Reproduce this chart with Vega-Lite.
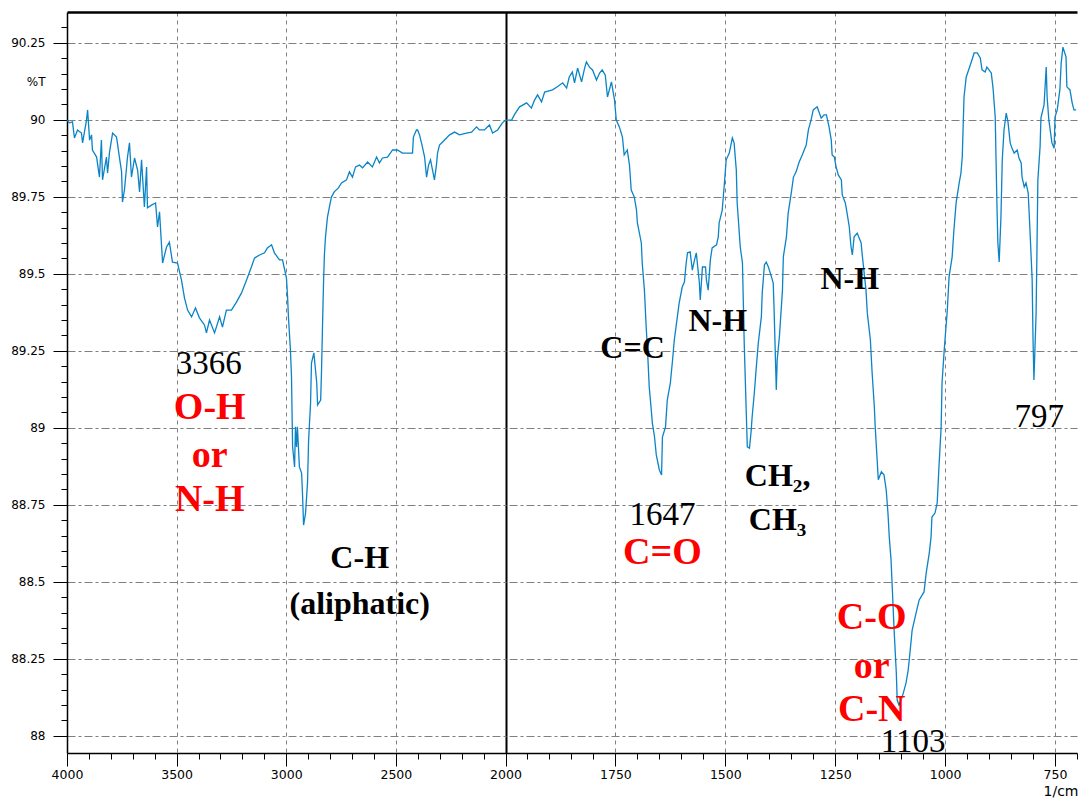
{
  "$schema": "https://vega.github.io/schema/vega-lite/v6.json",
  "autosize": {"type": "none"},
  "padding": {"left": 67, "top": 12, "right": 2, "bottom": 47},
  "width": 1010,
  "height": 741,
  "background": "white",
  "config": {"view": {"stroke": null}},
  "resolve": {"axis": {"x": "independent", "y": "independent"}},
  "layer": [
    {
      "data": {"values": [
        {"wn":4000,"T":89.999},{"wn":3989,"T":89.990},{"wn":3975,"T":89.993},{"wn":3966,"T":89.941},{"wn":3952,"T":89.967},{"wn":3934,"T":89.957},{"wn":3929,"T":89.925},{"wn":3911,"T":89.999},{"wn":3906,"T":90.032},{"wn":3897,"T":89.934},{"wn":3888,"T":89.951},{"wn":3884,"T":89.902},{"wn":3865,"T":89.879},{"wn":3852,"T":89.814},{"wn":3843,"T":89.934},{"wn":3838,"T":89.805},{"wn":3820,"T":89.879},{"wn":3815,"T":89.827},{"wn":3806,"T":89.895},{"wn":3792,"T":89.957},{"wn":3774,"T":89.944},{"wn":3761,"T":89.879},{"wn":3751,"T":89.831},{"wn":3747,"T":89.733},{"wn":3738,"T":89.772},{"wn":3724,"T":89.879},{"wn":3715,"T":89.925},{"wn":3706,"T":89.814},{"wn":3692,"T":89.876},{"wn":3678,"T":89.837},{"wn":3669,"T":89.766},{"wn":3660,"T":89.870},{"wn":3647,"T":89.717},{"wn":3637,"T":89.847},{"wn":3633,"T":89.714},{"wn":3615,"T":89.723},{"wn":3596,"T":89.730},{"wn":3587,"T":89.652},{"wn":3578,"T":89.701},{"wn":3564,"T":89.535},{"wn":3546,"T":89.587},{"wn":3533,"T":89.603},{"wn":3519,"T":89.538},{"wn":3496,"T":89.535},{"wn":3478,"T":89.480},{"wn":3464,"T":89.421},{"wn":3450,"T":89.382},{"wn":3432,"T":89.360},{"wn":3414,"T":89.389},{"wn":3396,"T":89.357},{"wn":3373,"T":89.334},{"wn":3364,"T":89.308},{"wn":3350,"T":89.350},{"wn":3327,"T":89.308},{"wn":3304,"T":89.360},{"wn":3291,"T":89.327},{"wn":3273,"T":89.382},{"wn":3250,"T":89.382},{"wn":3227,"T":89.408},{"wn":3204,"T":89.438},{"wn":3181,"T":89.480},{"wn":3159,"T":89.522},{"wn":3145,"T":89.551},{"wn":3122,"T":89.561},{"wn":3099,"T":89.568},{"wn":3086,"T":89.584},{"wn":3067,"T":89.594},{"wn":3054,"T":89.568},{"wn":3031,"T":89.545},{"wn":3017,"T":89.545},{"wn":2999,"T":89.486},{"wn":2994,"T":89.425},{"wn":2990,"T":89.360},{"wn":2981,"T":89.253},{"wn":2976,"T":89.165},{"wn":2974,"T":89.068},{"wn":2971,"T":88.938},{"wn":2962,"T":88.873},{"wn":2958,"T":89.003},{"wn":2953,"T":88.938},{"wn":2949,"T":89.003},{"wn":2940,"T":88.873},{"wn":2930,"T":88.853},{"wn":2926,"T":88.788},{"wn":2921,"T":88.684},{"wn":2912,"T":88.723},{"wn":2903,"T":88.821},{"wn":2898,"T":88.960},{"wn":2889,"T":89.081},{"wn":2885,"T":89.210},{"wn":2874,"T":89.243},{"wn":2861,"T":89.146},{"wn":2857,"T":89.074},{"wn":2843,"T":89.090},{"wn":2839,"T":89.188},{"wn":2834,"T":89.350},{"wn":2830,"T":89.470},{"wn":2826,"T":89.561},{"wn":2821,"T":89.620},{"wn":2812,"T":89.684},{"wn":2803,"T":89.717},{"wn":2794,"T":89.749},{"wn":2781,"T":89.766},{"wn":2762,"T":89.779},{"wn":2748,"T":89.795},{"wn":2725,"T":89.805},{"wn":2712,"T":89.831},{"wn":2698,"T":89.814},{"wn":2684,"T":89.847},{"wn":2666,"T":89.853},{"wn":2652,"T":89.844},{"wn":2629,"T":89.863},{"wn":2607,"T":89.847},{"wn":2588,"T":89.879},{"wn":2575,"T":89.860},{"wn":2561,"T":89.876},{"wn":2538,"T":89.879},{"wn":2515,"T":89.902},{"wn":2493,"T":89.902},{"wn":2470,"T":89.892},{"wn":2447,"T":89.892},{"wn":2424,"T":89.892},{"wn":2420,"T":89.944},{"wn":2406,"T":89.967},{"wn":2401,"T":89.967},{"wn":2392,"T":89.951},{"wn":2379,"T":89.912},{"wn":2369,"T":89.879},{"wn":2360,"T":89.814},{"wn":2351,"T":89.853},{"wn":2342,"T":89.870},{"wn":2333,"T":89.837},{"wn":2324,"T":89.805},{"wn":2315,"T":89.853},{"wn":2310,"T":89.892},{"wn":2301,"T":89.918},{"wn":2287,"T":89.928},{"wn":2269,"T":89.941},{"wn":2255,"T":89.951},{"wn":2232,"T":89.960},{"wn":2210,"T":89.951},{"wn":2178,"T":89.957},{"wn":2155,"T":89.960},{"wn":2132,"T":89.977},{"wn":2119,"T":89.967},{"wn":2096,"T":89.967},{"wn":2073,"T":89.983},{"wn":2059,"T":89.957},{"wn":2036,"T":89.967},{"wn":2014,"T":89.990},{"wn":2000,"T":89.999},
        {"wn":1998,"T":89.999},{"wn":1986,"T":89.999},{"wn":1980,"T":90.016},{"wn":1968,"T":90.042},{"wn":1952,"T":90.055},{"wn":1941,"T":90.038},{"wn":1934,"T":90.064},{"wn":1927,"T":90.081},{"wn":1918,"T":90.058},{"wn":1911,"T":90.090},{"wn":1893,"T":90.097},{"wn":1882,"T":90.107},{"wn":1870,"T":90.120},{"wn":1861,"T":90.103},{"wn":1855,"T":90.139},{"wn":1848,"T":90.155},{"wn":1843,"T":90.120},{"wn":1836,"T":90.168},{"wn":1827,"T":90.123},{"wn":1820,"T":90.168},{"wn":1816,"T":90.188},{"wn":1809,"T":90.171},{"wn":1802,"T":90.162},{"wn":1793,"T":90.129},{"wn":1786,"T":90.152},{"wn":1780,"T":90.162},{"wn":1773,"T":90.145},{"wn":1768,"T":90.074},{"wn":1759,"T":90.123},{"wn":1752,"T":90.064},{"wn":1748,"T":89.999},{"wn":1741,"T":89.977},{"wn":1734,"T":89.944},{"wn":1730,"T":89.886},{"wn":1723,"T":89.902},{"wn":1718,"T":89.853},{"wn":1714,"T":89.772},{"wn":1707,"T":89.749},{"wn":1702,"T":89.707},{"wn":1700,"T":89.665},{"wn":1691,"T":89.600},{"wn":1689,"T":89.535},{"wn":1684,"T":89.447},{"wn":1680,"T":89.327},{"wn":1677,"T":89.253},{"wn":1673,"T":89.132},{"wn":1668,"T":89.051},{"wn":1666,"T":89.016},{"wn":1661,"T":88.970},{"wn":1657,"T":88.912},{"wn":1650,"T":88.863},{"wn":1645,"T":88.847},{"wn":1643,"T":88.970},{"wn":1636,"T":89.003},{"wn":1632,"T":89.090},{"wn":1625,"T":89.146},{"wn":1620,"T":89.220},{"wn":1616,"T":89.285},{"wn":1611,"T":89.340},{"wn":1605,"T":89.405},{"wn":1598,"T":89.457},{"wn":1593,"T":89.473},{"wn":1589,"T":89.535},{"wn":1586,"T":89.568},{"wn":1580,"T":89.571},{"wn":1575,"T":89.512},{"wn":1570,"T":89.545},{"wn":1566,"T":89.568},{"wn":1559,"T":89.470},{"wn":1557,"T":89.415},{"wn":1552,"T":89.522},{"wn":1545,"T":89.522},{"wn":1543,"T":89.480},{"wn":1539,"T":89.447},{"wn":1534,"T":89.545},{"wn":1530,"T":89.584},{"wn":1520,"T":89.594},{"wn":1516,"T":89.620},{"wn":1514,"T":89.665},{"wn":1507,"T":89.707},{"wn":1502,"T":89.795},{"wn":1498,"T":89.870},{"wn":1491,"T":89.892},{"wn":1484,"T":89.941},{"wn":1480,"T":89.925},{"wn":1475,"T":89.837},{"wn":1473,"T":89.730},{"wn":1466,"T":89.587},{"wn":1461,"T":89.535},{"wn":1459,"T":89.405},{"wn":1457,"T":89.275},{"wn":1452,"T":89.035},{"wn":1450,"T":88.938},{"wn":1445,"T":88.934},{"wn":1441,"T":88.993},{"wn":1439,"T":89.035},{"wn":1434,"T":89.113},{"wn":1430,"T":89.188},{"wn":1425,"T":89.275},{"wn":1418,"T":89.360},{"wn":1416,"T":89.438},{"wn":1411,"T":89.529},{"wn":1407,"T":89.538},{"wn":1402,"T":89.522},{"wn":1395,"T":89.490},{"wn":1391,"T":89.470},{"wn":1389,"T":89.382},{"wn":1384,"T":89.123},{"wn":1382,"T":89.220},{"wn":1377,"T":89.295},{"wn":1370,"T":89.447},{"wn":1368,"T":89.555},{"wn":1361,"T":89.620},{"wn":1357,"T":89.697},{"wn":1350,"T":89.762},{"wn":1345,"T":89.814},{"wn":1339,"T":89.831},{"wn":1332,"T":89.863},{"wn":1325,"T":89.886},{"wn":1316,"T":89.918},{"wn":1311,"T":89.967},{"wn":1305,"T":89.999},{"wn":1300,"T":90.032},{"wn":1291,"T":90.042},{"wn":1282,"T":90.006},{"wn":1275,"T":90.016},{"wn":1270,"T":90.016},{"wn":1264,"T":89.977},{"wn":1259,"T":89.934},{"wn":1257,"T":89.886},{"wn":1252,"T":89.879},{"wn":1248,"T":89.847},{"wn":1243,"T":89.821},{"wn":1236,"T":89.805},{"wn":1234,"T":89.756},{"wn":1227,"T":89.730},{"wn":1223,"T":89.697},{"wn":1218,"T":89.652},{"wn":1214,"T":89.587},{"wn":1211,"T":89.561},{"wn":1207,"T":89.620},{"wn":1200,"T":89.632},{"wn":1191,"T":89.600},{"wn":1189,"T":89.568},{"wn":1180,"T":89.447},{"wn":1177,"T":89.373},{"wn":1170,"T":89.285},{"wn":1166,"T":89.178},{"wn":1161,"T":89.068},{"wn":1159,"T":89.003},{"wn":1155,"T":88.905},{"wn":1152,"T":88.831},{"wn":1145,"T":88.857},{"wn":1139,"T":88.847},{"wn":1134,"T":88.798},{"wn":1130,"T":88.723},{"wn":1127,"T":88.645},{"wn":1123,"T":88.571},{"wn":1120,"T":88.473},{"wn":1116,"T":88.343},{"wn":1111,"T":88.204},{"wn":1109,"T":88.116},{"wn":1105,"T":88.100},{"wn":1100,"T":88.116},{"wn":1095,"T":88.139},{"wn":1089,"T":88.171},{"wn":1084,"T":88.213},{"wn":1080,"T":88.269},{"wn":1075,"T":88.343},{"wn":1066,"T":88.399},{"wn":1059,"T":88.441},{"wn":1048,"T":88.467},{"wn":1043,"T":88.529},{"wn":1036,"T":88.594},{"wn":1032,"T":88.645},{"wn":1030,"T":88.710},{"wn":1023,"T":88.723},{"wn":1018,"T":88.756},{"wn":1014,"T":88.873},{"wn":1009,"T":89.003},{"wn":1007,"T":89.146},{"wn":1002,"T":89.253},{"wn":998,"T":89.327},{"wn":995,"T":89.382},{"wn":991,"T":89.490},{"wn":984,"T":89.555},{"wn":980,"T":89.642},{"wn":975,"T":89.730},{"wn":968,"T":89.795},{"wn":964,"T":89.827},{"wn":961,"T":89.879},{"wn":957,"T":90.074},{"wn":952,"T":90.139},{"wn":945,"T":90.168},{"wn":939,"T":90.194},{"wn":934,"T":90.217},{"wn":927,"T":90.217},{"wn":920,"T":90.201},{"wn":916,"T":90.162},{"wn":909,"T":90.155},{"wn":905,"T":90.171},{"wn":895,"T":90.152},{"wn":891,"T":90.103},{"wn":886,"T":90.009},{"wn":884,"T":89.860},{"wn":882,"T":89.717},{"wn":880,"T":89.600},{"wn":877,"T":89.538},{"wn":873,"T":89.684},{"wn":870,"T":89.870},{"wn":866,"T":89.967},{"wn":861,"T":90.022},{"wn":857,"T":89.993},{"wn":852,"T":89.925},{"wn":848,"T":89.908},{"wn":843,"T":89.892},{"wn":836,"T":89.902},{"wn":832,"T":89.876},{"wn":827,"T":89.860},{"wn":825,"T":89.814},{"wn":820,"T":89.782},{"wn":816,"T":89.795},{"wn":811,"T":89.762},{"wn":807,"T":89.642},{"wn":802,"T":89.480},{"wn":800,"T":89.285},{"wn":798,"T":89.155},{"wn":793,"T":89.373},{"wn":791,"T":89.587},{"wn":789,"T":89.805},{"wn":784,"T":89.912},{"wn":782,"T":90.006},{"wn":775,"T":90.048},{"wn":770,"T":90.171},{"wn":768,"T":90.074},{"wn":764,"T":89.999},{"wn":757,"T":89.925},{"wn":752,"T":89.908},{"wn":750,"T":90.009},{"wn":745,"T":90.032},{"wn":739,"T":90.097},{"wn":736,"T":90.184},{"wn":732,"T":90.236},{"wn":725,"T":90.204},{"wn":723,"T":90.107},{"wn":716,"T":90.097},{"wn":711,"T":90.055},{"wn":707,"T":90.032},{"wn":702,"T":90.032}
      ]},
      "mark": {"type": "line", "color": "#0a84c6", "strokeWidth": 1.3, "interpolate": "linear"},
      "encoding": {
        "x": {
          "field": "wn", "type": "quantitative",
          "scale": {"domain": [4000, 2000, 700], "range": [0, 438.5, 1010], "nice": false, "zero": false},
          "axis": {
            "orient": "bottom",
            "values": [4000,3500,3000,2500,2000,1750,1500,1250,1000,750],
            "labelExpr": "'' + datum.value",
            "labelFont": "DejaVu Sans", "labelFontSize": 12.5, "labelColor": "black", "labelPadding": 2,
            "labelFlush": false, "labelOverlap": false,
            "tickSize": 13, "tickColor": "black", "tickWidth": 1,
            "domainColor": "black", "domainWidth": 1.5,
            "grid": true,
            "gridColor": {"condition": {"test": "datum.value == 2000", "value": "black"}, "value": "#808080"},
            "gridWidth": {"condition": {"test": "datum.value == 2000", "value": 2}, "value": 1},
            "gridDash": {"condition": {"test": "datum.value == 2000", "value": []}, "value": [4, 4]},
            "gridOpacity": {"condition": {"test": "datum.value == 4000", "value": 0}, "value": 1},
            "title": "1/cm", "titleFont": "DejaVu Sans", "titleFontSize": 14, "titleFontWeight": "normal", "titleColor": "black",
            "titleX": 1011, "titleY": 38, "titleAlign": "right", "titleBaseline": "middle", "titleAnchor": "end"
          }
        },
        "y": {
          "field": "T", "type": "quantitative",
          "scale": {"domain": [87.944, 90.35], "nice": false, "zero": false},
          "axis": {
            "orient": "left",
            "values": [88, 88.25, 88.5, 88.75, 89, 89.25, 89.5, 89.75, 90, 90.125, 90.25],
            "labelExpr": "datum.value == 90.125 ? '%T' : ('' + datum.value)",
            "labelFont": "DejaVu Sans", "labelFontSize": 12, "labelColor": "black", "labelPadding": 8,
            "labelOverlap": false, "labelFlush": false,
            "tickSize": 14, "tickWidth": 1,
            "tickColor": {"condition": {"test": "datum.value == 90.125", "value": "transparent"}, "value": "black"},
            "domainColor": "black", "domainWidth": 1.5,
            "grid": true, "gridColor": "#808080", "gridWidth": 1, "gridDash": [8, 3, 3, 3],
            "gridOpacity": {"condition": {"test": "datum.value == 90.125", "value": 0}, "value": 1},
            "title": null
          }
        }
      }
    },
    {
      "data": {"values": [
        {"wn": 3349, "T": 89.064, "label": "O-H"},
        {"wn": 3349, "T": 88.908, "label": "or"},
        {"wn": 3349, "T": 88.766, "label": "N-H"},
        {"wn": 1643, "T": 88.594, "label": "C=O"},
        {"wn": 1167, "T": 88.382, "label": "C-O"},
        {"wn": 1167, "T": 88.223, "label": "or"},
        {"wn": 1167, "T": 88.084, "label": "C-N"}
      ]},
      "mark": {"type": "text", "font": "Liberation Serif", "fontSize": 38, "fontWeight": "bold", "color": "#ff0000", "align": "center", "baseline": "middle"},
      "encoding": {
        "x": {"field": "wn", "type": "quantitative", "axis": {"orient": "top", "labels": false, "ticks": false, "grid": false, "domainColor": "black", "domainWidth": 2.5, "title": null}},
        "y": {"field": "T", "type": "quantitative", "axis": {
          "orient": "left",
          "values": [88.05,88.1,88.15,88.2,88.3,88.35,88.4,88.45,88.55,88.6,88.65,88.7,88.8,88.85,88.9,88.95,89.05,89.1,89.15,89.2,89.3,89.35,89.4,89.45,89.55,89.6,89.65,89.7,89.8,89.85,89.9,89.95,90.05,90.1,90.15,90.2,90.3],
          "labels": false, "domain": false, "grid": false, "tickSize": 6, "tickColor": "black", "tickWidth": 1, "title": null
        }},
        "text": {"field": "label"}
      }
    },
    {
      "data": {"values": [
        {"wn": 2665, "T": 88.577, "label": "C-H"},
        {"wn": 2665, "T": 88.428, "label": "(aliphatic)"},
        {"wn": 1711, "T": 89.259, "label": "C=C"},
        {"wn": 1517, "T": 89.347, "label": "N-H"},
        {"wn": 1217, "T": 89.483, "label": "N-H"},
        {"wn": 1381, "T": 88.844, "label": "CH₂,"},
        {"wn": 1381, "T": 88.701, "label": "CH₃"}
      ]},
      "mark": {"type": "text", "font": "Liberation Serif", "fontSize": 32, "fontWeight": "bold", "color": "black", "align": "center", "baseline": "middle"},
      "encoding": {
        "x": {"field": "wn", "type": "quantitative", "axis": {
          "orient": "bottom",
          "values": [3900,3800,3700,3600,3400,3300,3200,3100,2900,2800,2700,2600,2400,2300,2200,2100,1950,1900,1850,1800,1700,1650,1600,1550,1450,1400,1350,1300,1200,1150,1100,1050,950,900,850,800,700],
          "labels": false, "domain": false, "grid": false, "tickSize": 6, "tickColor": "black", "tickWidth": 1, "title": null
        }},
        "y": {"field": "T", "type": "quantitative", "axis": null},
        "text": {"field": "label"}
      }
    },
    {
      "data": {"values": [
        {"wn": 3353, "T": 89.207, "label": "3366"},
        {"wn": 1643, "T": 88.717, "label": "1647"},
        {"wn": 1073, "T": 87.98, "label": "1103"},
        {"wn": 786, "T": 89.035, "label": "797"}
      ]},
      "mark": {"type": "text", "font": "Liberation Serif", "fontSize": 33, "fontWeight": "normal", "color": "black", "align": "center", "baseline": "middle"},
      "encoding": {
        "x": {"field": "wn", "type": "quantitative", "axis": null},
        "y": {"field": "T", "type": "quantitative", "axis": null},
        "text": {"field": "label"}
      }
    }
  ]
}
